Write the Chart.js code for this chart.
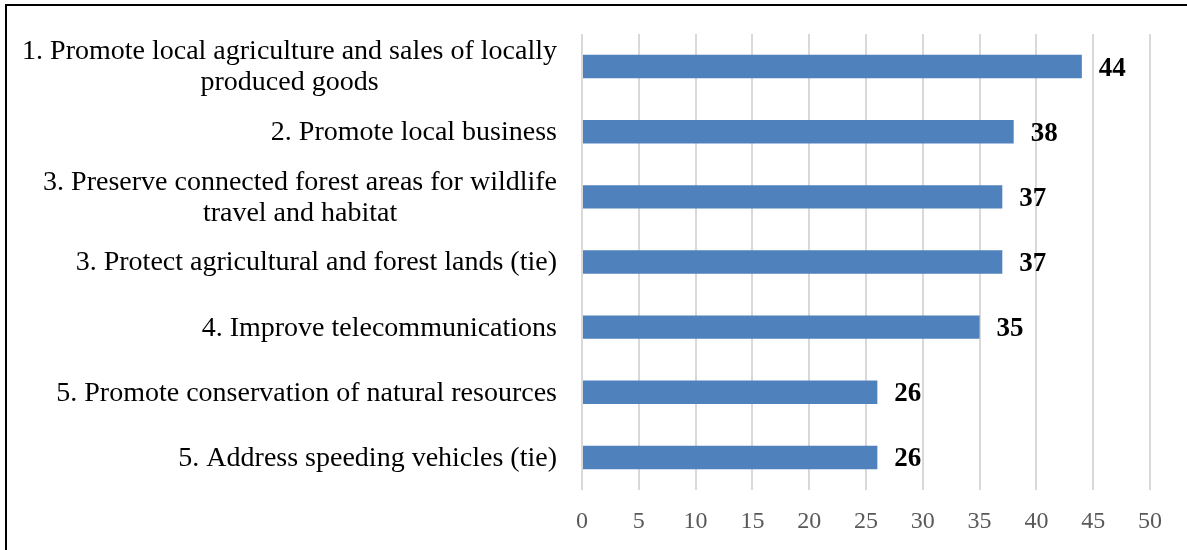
<!DOCTYPE html>
<html>
<head>
<meta charset="utf-8">
<script src="https://cdn.jsdelivr.net/npm/chart.js@4/dist/chart.umd.min.js"></script>
<style>
  html, body { margin: 0; padding: 0; background: #fff; }
  #wrap { position: relative; width: 1187px; height: 550px; overflow: hidden; }
  #frame { position: absolute; left: 5px; top: 4px; right: -10px; bottom: -10px;
           border-top: 2px solid #000; border-left: 2px solid #000; pointer-events: none; }
</style>
</head>
<body>
<div id="wrap">
  <canvas id="c"></canvas>
  <div id="frame"></div>
</div>
<script>
const categories = [
  ["1. Promote local agriculture and sales of locally", "produced goods"],
  ["2. Promote local business"],
  ["3. Preserve connected forest areas for wildlife", "travel and habitat"],
  ["3. Protect agricultural and forest lands (tie)"],
  ["4. Improve telecommunications"],
  ["5. Promote conservation of natural resources"],
  ["5. Address speeding vehicles (tie)"]
];
const values = [44, 38, 37, 37, 35, 26, 26];
const xTicks = [0, 5, 10, 15, 20, 25, 30, 35, 40, 45, 50];

const LABEL_FONT = '28px "Liberation Serif", serif';
const VALUE_FONT = 'bold 27px "Liberation Serif", serif';

const labelPlugin = {
  id: 'customLabels',
  afterDraw(chart) {
    const ctx = chart.ctx;
    const y = chart.scales.y;
    ctx.save();
    ctx.font = LABEL_FONT;
    ctx.fillStyle = '#000';
    ctx.textBaseline = 'middle';
    ctx.textAlign = 'center';
    const rightEdge = 557;
    const lineH = 31;
    categories.forEach((lines, i) => {
      const cy = y.getPixelForValue(i);
      const maxW = Math.max(...lines.map(l => ctx.measureText(l).width));
      const cx = rightEdge - maxW / 2;
      const start = cy - (lines.length - 1) * lineH / 2;
      lines.forEach((l, j) => ctx.fillText(l, cx, start + j * lineH + 1));
    });
    ctx.font = VALUE_FONT;
    ctx.textAlign = 'left';
    const meta = chart.getDatasetMeta(0);
    meta.data.forEach((bar, i) => {
      ctx.fillText(String(values[i]), bar.x + 17, bar.y + 2);
    });
    ctx.restore();
  }
};

new Chart(document.getElementById('c'), {
  type: 'bar',
  data: {
    labels: categories.map(c => c.join(' ')),
    datasets: [{
      data: values,
      backgroundColor: '#4F81BD',
      borderWidth: 0,
      categoryPercentage: 0.4,
      barPercentage: 0.9
    }]
  },
  options: {
    indexAxis: 'y',
    responsive: true,
    maintainAspectRatio: false,
    animation: false,
    layout: { padding: { left: 0, right: 37, top: 34, bottom: 0 } },
    plugins: { legend: { display: false }, tooltip: { enabled: false } },
    scales: {
      x: {
        min: 0, max: 50,
        afterBuildTicks: s => { s.ticks = xTicks.map(v => ({ value: v })); },
        afterFit: s => { s.height = 60; },
        grid: { color: '#d9d9d9', lineWidth: 2, drawTicks: false },
        border: { display: false },
        ticks: {
          color: '#595959',
          font: { family: '"Liberation Serif", serif', size: 24 },
          padding: 17
        }
      },
      y: {
        afterFit: s => { s.width = 582; },
        grid: { display: false },
        border: { display: false },
        ticks: { display: false }
      }
    }
  },
  plugins: [labelPlugin]
});
</script>
</body>
</html>
